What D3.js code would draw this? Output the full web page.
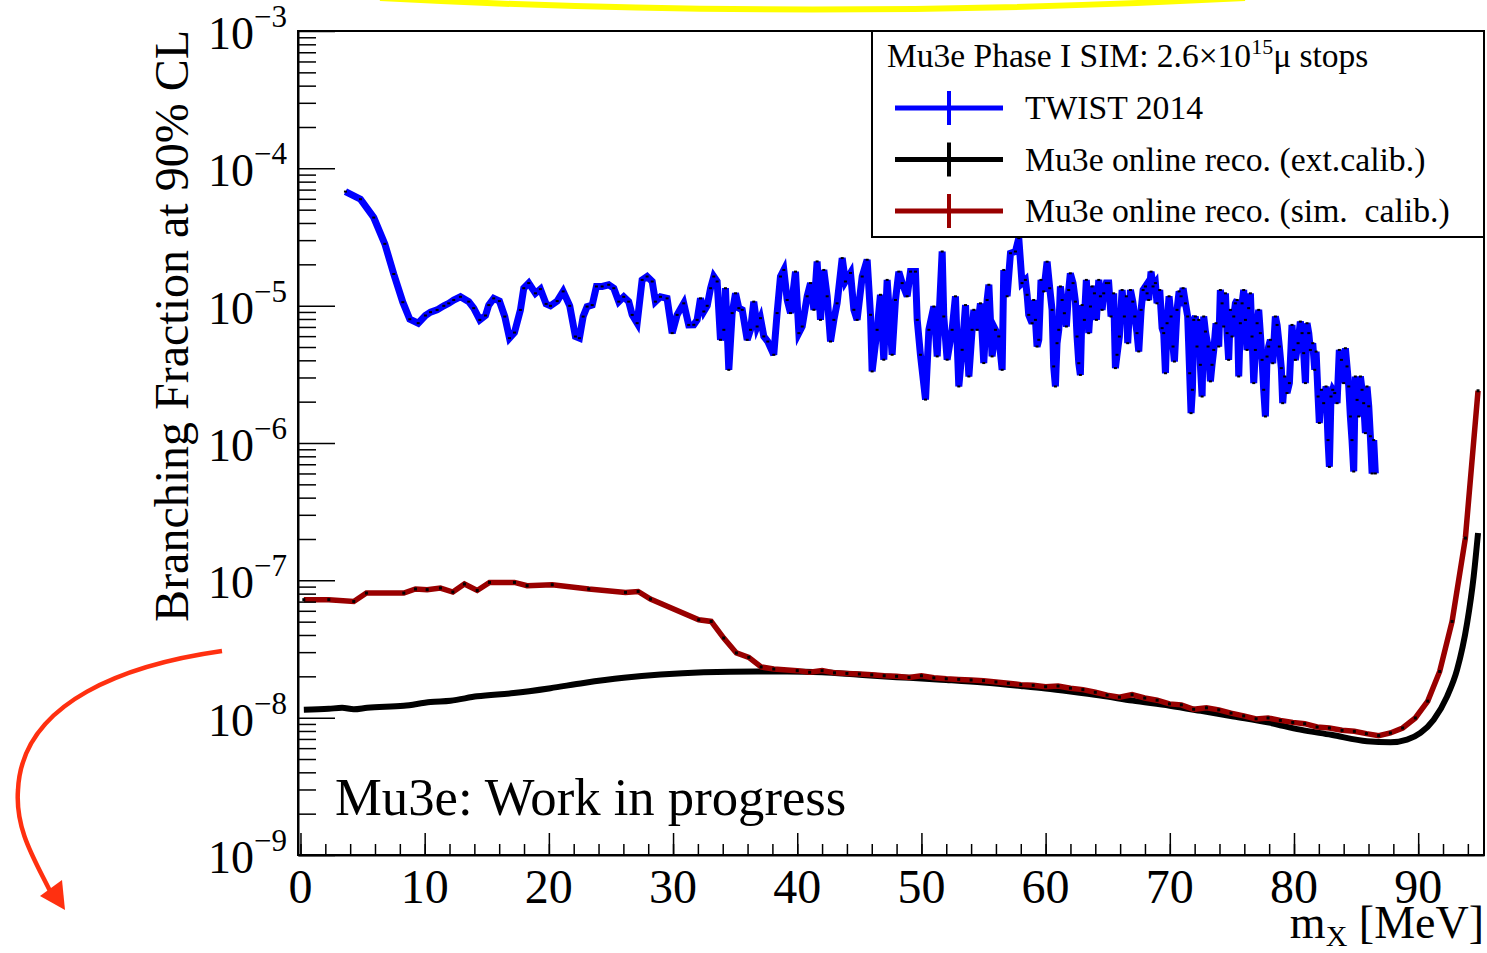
<!DOCTYPE html>
<html>
<head>
<meta charset="utf-8">
<script src="https://cdn.jsdelivr.net/npm/d3@7"></script>
<style>
  body { margin: 0; background: #fff; }
  text { font-family: "Liberation Serif", "Times New Roman", serif; fill: #000; }
</style>
</head>
<body>
<svg id="chart" width="1487" height="953"></svg>
<script>
// TWIST 2014 limit (units of 1e-6)
var twistMass = [3.62,4.83,5.90,6.79,7.51,8.24,8.80,9.48,10.06,10.47,11.00,11.54,11.94,12.34,12.88,13.55,13.95,14.44,14.90,15.16,
  15.56,16.02,16.45,16.83,17.23,17.71,17.98,18.38,18.92,19.32,19.78,20.13,20.67,21.15,21.68,22.14,22.46,22.76,23.08,23.49,
  23.83,24.29,24.82,25.23,25.63,26.03,26.43,26.71,27.11,27.51,27.91,28.32,28.58,28.99,29.52,29.93,30.33,30.86,31.26,
  31.67,31.94,32.21,32.48,32.75,33.02,33.28,33.55,33.82,34.09,34.22,34.49,34.76,35.03,35.30,35.57,35.97,36.24,36.50,36.77,
  37.04,37.31,37.63,38.11,38.38,38.65,38.92,39.19,39.46,39.86,40.13,40.40,40.80,41.07,41.34,41.60,41.87,42.14,42.41,42.68,
  42.95,43.21,43.62,43.88,44.29,44.56,44.82,45.23,45.63,45.90,46.03,46.43,46.70,46.97,47.24,47.64,47.91,48.18,48.45,48.85,
  49.12,49.52,49.66,49.92,50.33,50.60,51.00,51.27,51.67,51.80,52.07,52.47,52.74,53.01,53.28,53.55,53.82,54.08,54.22,54.49,
  54.75,55.02,55.29,55.43,55.69,55.96,56.23,56.50,
  56.63,56.90,57.17,57.57,57.84,
  58.10,58.37,58.51,58.64,58.91,59.04,59.18,59.31,59.45,59.63,59.85,60.12,60.33,60.52,60.65,60.79,60.92,61.06,61.19,61.33,
  61.51,61.67,61.86,61.99,62.21,62.40,62.53,62.67,62.80,62.94,63.12,63.28,63.47,63.61,63.74,63.93,64.09,64.28,64.41,64.55,
  64.68,64.89,65.08,65.27,65.48,65.62,65.75,65.94,66.16,66.34,66.50,66.61,66.83,67.02,67.18,67.36,67.50,67.69,67.85,68.04,
  68.17,68.30,68.49,68.65,68.84,68.97,69.19,69.38,69.51,69.65,69.78,69.94,70.10,70.26,70.37,70.58,70.75,70.91,71.07,71.26,
  71.44,71.60,71.71,71.82,71.93,
  72.06,72.19,72.33,72.46,72.60,72.73,72.87,73.08,73.27,73.40,73.54,73.72,73.94,74.07,74.21,74.34,74.48,74.61,74.74,74.88,
  75.01,75.15,75.28,75.42,75.55,75.68,75.82,75.95,76.09,76.22,76.35,76.49,76.62,76.76,76.89,77.03,77.16,77.29,77.43,77.56,
  77.70,77.83,77.96,78.10,78.29,78.50,78.64,78.82,78.98,79.09,79.25,79.44,79.63,79.84,79.98,80.11,80.33,80.51,80.65,80.78,
  80.92,81.05,81.19,81.32,81.51,81.67,81.78,81.94,82.04,82.21,82.39,82.58,82.74,82.85,82.98,83.12,83.28,83.47,83.65,83.82,
  84.00,84.14,84.27,84.41,84.54,84.67,84.81,84.94,85.08,85.21,85.35,85.48,85.61,85.75,85.88,86.02,86.15,86.29,86.42,86.55];
var twistLimit = [67.7,59.6,43.8,28.2,17.0,10.6,7.97,7.46,8.48,8.97,9.31,9.97,10.4,11.0,11.6,10.7,9.59,7.88,8.48,10.1,
  11.3,10.8,8.33,5.80,6.37,9.31,13.4,14.6,12.3,13.2,10.3,9.97,10.8,12.7,9.97,5.96,5.80,8.33,9.85,10.1,
  13.8,13.8,14.2,13.4,10.7,11.6,10.7,8.57,7.46,15.4,16.3,15.0,10.7,11.6,11.3,6.31,8.57,10.4,7.24,
  7.26,7.88,11.3,9.07,9.98,13.4,16.3,15.0,5.64,6.67,13.4,3.41,8.83,12.3,9.59,9.33,5.64,6.67,10.7,7.05,
  8.11,5.97,5.48,4.39,8.83,16.3,18.2,11.0,8.83,17.7,6.31,7.05,11.7,14.6,9.33,21.0,7.88,18.2,11.7,5.48,
  7.88,10.4,22.2,15.0,17.3,9.33,7.88,16.3,21.6,8.58,3.32,6.67,12.0,4.04,15.4,4.39,11.0,17.7,14.6,11.7,
  17.7,17.7,7.88,4.39,2.07,6.67,9.86,4.27,24.8,8.34,4.04,6.67,11.7,2.58,4.77,10.1,3.05,6.67,9.33,6.67,
  10.4,3.82,11.0,14.2,4.27,6.67,5.97,3.41,
  18.2,11.7,24.1,24.8,31.0,
  14.6,15.4,12.0,8.57,7.45,11.0,7.88,5.04,5.64,15.4,12.7,20.9,13.4,9.32,3.61,2.58,5.33,6.67,13.8,11.0,
  8.81,7.05,13.0,17.2,14.6,10.7,5.96,3.81,3.13,10.1,7.88,15.4,6.31,9.86,13.8,12.3,7.88,15.4,11.7,9.32,
  12.3,14.6,14.6,8.34,12.3,3.51,4.39,5.96,13.0,8.34,11.7,5.33,13.0,10.7,8.34,6.31,4.64,9.32,13.0,13.8,
  12.3,11.0,17.7,13.8,14.6,10.4,13.0,6.86,6.31,3.22,7.45,11.7,8.34,5.04,3.92,9.32,12.7,11.7,13.4,10.4,
  8.34,3.22,1.65,2.44,7.88,
  8.34,5.04,7.88,3.71,2.18,8.34,6.48,5.04,2.81,3.71,4.76,7.45,5.04,13.0,10.4,7.05,12.3,6.31,4.03,9.32,
  5.96,8.34,10.4,11.0,3.05,7.45,10.4,13.0,7.88,4.76,9.59,12.3,5.96,2.73,4.76,7.45,9.32,6.31,4.03,2.44,
  1.56,4.26,5.04,5.64,3.81,8.34,7.24,5.04,3.51,1.95,3.05,2.31,2.73,7.24,4.76,4.03,5.33,7.66,6.31,4.51,
  2.73,7.45,6.31,4.76,5.33,3.41,4.63,2.18,1.40,2.44,1.95,2.58,1.05,0.67,2.18,2.44,2.31,1.95,4.76,4.03,
  2.73,4.90,3.61,2.58,1.56,1.05,0.62,3.05,2.06,1.56,3.05,2.44,1.95,1.18,2.58,1.85,1.12,0.60,1.05,0.60];

// Mu3e online reco. (ext. calib.), units of 1e-8
var extMass = [0.27,2.28,3.35,4.29,5.37,8.32,10.47,12.08,14.22,17.17,20.13,22.81,26.03,28.99,32.47,36.77,39.19,42,45,48,
  50,52,55,58,60,62,64.41,67,70,72.5,75.14,78,80.51,83,85.88,87.76,89.10,90.18,91.25,92.33,93.13,93.94,94.47,94.82];
var extLimit = [1.14,1.16,1.18,1.15,1.18,1.22,1.30,1.33,1.43,1.51,1.64,1.79,1.95,2.06,2.14,2.17,2.17,2.14,2.05,1.97,
  1.93,1.88,1.80,1.70,1.63,1.55,1.45,1.33,1.22,1.12,1.02,0.92,0.818,0.75,0.673,0.661,0.691,0.774,0.967,1.43,2.23,4.89,10.7,22.1];

// Mu3e online reco. (sim. calib.), units of 1e-8
var simMass = [0.27,2.28,4.29,5.31,8.32,9.26,10.20,11.27,12.27,13.20,14.23,15.22,17.23,18.25,20.27,23.21,26.17,27.19,28.18,32.07,
  33.07,34.08,35.10,36.10,37.09,38.11,40,41,42,43,44,45,46,47,48,49,50,51,52,53,54,55,56,57,58,59,60,61,62,63,64,
  64.95,65.94,66.96,67.98,68.98,69.97,70.93,71.92,72.95,73.94,74.93,75.95,76.95,77.91,78.90,79.90,80.86,81.86,82.85,83.87,
  84.86,85.83,86.82,87.76,88.75,89.77,90.77,91.73,92.73,93.80,94.82];
var simLimit = [7.23,7.23,7.02,8.08,8.08,8.65,8.55,8.79,8.22,9.40,8.44,9.66,9.66,9.14,9.29,8.65,8.17,8.30,7.31,5.16,
  5.02,3.80,2.96,2.75,2.34,2.26,2.20,2.14,2.20,2.12,2.10,2.08,2.05,2.02,2.00,1.96,2.02,1.95,1.92,1.90,1.88,1.86,1.82,1.78,1.74,1.72,1.68,1.70,1.64,1.60,1.53,
  1.46,1.41,1.47,1.39,1.34,1.26,1.24,1.15,1.18,1.14,1.08,1.03,0.98,0.995,0.955,0.924,0.904,0.855,0.841,0.809,
  0.795,0.765,0.74,0.774,0.841,0.995,1.32,2.17,5.02,20.3,240];

var xTicks = [0,10,20,30,40,50,60,70,80,90];
var yExponents = [-9,-8,-7,-6,-5,-4,-3];

var legendEntries = [
  {label: "TWIST 2014", color: "#0000ff"},
  {label: "Mu3e online reco. (ext.calib.)", color: "#000000"},
  {label: "Mu3e online reco. (sim.\u00a0 calib.)", color: "#990000"}
];

var frame = {left: 298, right: 1484, top: 31, bottom: 855};

var svg = d3.select("#chart");

var x = d3.scaleLinear().domain([-0.2, 95.3]).range([frame.left, frame.right]);
var y = d3.scaleLog().domain([1e-9, 1e-3]).range([frame.bottom, frame.top]);

var twist = d3.zip(twistMass, twistLimit.map(v => v * 1e-6));
var ext = d3.zip(extMass, extLimit.map(v => v * 1e-8));
var sim = d3.zip(simMass, simLimit.map(v => v * 1e-8));

var line = d3.line().x(d => x(d[0])).y(d => y(d[1]));

// yellow highlight at the top edge
svg.append("path")
  .attr("d", "M380,-2 Q812,21 1245,-2")
  .attr("fill", "none")
  .attr("stroke", "#ffff00")
  .attr("stroke-width", 6);

// curves
svg.append("path")
  .datum(twist)
  .attr("d", line)
  .attr("fill", "none")
  .attr("stroke", "#0000ff")
  .attr("stroke-width", 7)
  .attr("stroke-linejoin", "miter")
  .attr("stroke-miterlimit", 4);

svg.append("g").selectAll("rect")
  .data(twist)
  .enter()
  .append("rect")
  .attr("x", d => x(d[0]) - 1.5)
  .attr("y", d => y(d[1]) - 1)
  .attr("width", 3)
  .attr("height", 2)
  .attr("fill", "#000");

svg.append("path")
  .datum(ext)
  .attr("d", line.curve(d3.curveMonotoneX))
  .attr("fill", "none")
  .attr("stroke", "#000")
  .attr("stroke-width", 6);

line.curve(d3.curveLinear);

svg.append("path")
  .datum(sim)
  .attr("d", line)
  .attr("fill", "none")
  .attr("stroke", "#990000")
  .attr("stroke-width", 5.5);

svg.append("g").selectAll("rect")
  .data(sim)
  .enter()
  .append("rect")
  .attr("x", d => x(d[0]) - 1.5)
  .attr("y", d => y(d[1]) - 1.5)
  .attr("width", 3)
  .attr("height", 3)
  .attr("fill", "#000");

// frame
svg.append("rect")
  .attr("x", frame.left)
  .attr("y", frame.top)
  .attr("width", frame.right - frame.left)
  .attr("height", frame.bottom - frame.top)
  .attr("fill", "none")
  .attr("stroke", "#000")
  .attr("stroke-width", 2);

// x axis ticks (pointing inwards)
var xMinor = d3.range(0, 96, 2);
svg.append("g")
  .attr("transform", `translate(0, ${frame.bottom})`)
  .call(d3.axisBottom(x).tickValues(xMinor).tickSize(-11).tickSizeOuter(0).tickFormat(""))
  .call(g => g.select(".domain").remove())
  .selectAll("line").attr("stroke-width", 1.5);

svg.append("g")
  .attr("transform", `translate(0, ${frame.bottom})`)
  .call(d3.axisBottom(x).tickValues(xTicks).tickSize(-22).tickSizeOuter(0).tickFormat(""))
  .call(g => g.select(".domain").attr("stroke-width", 2))
  .selectAll("line").attr("stroke-width", 1.5);

// y axis ticks
var yMinor = [];
yExponents.slice(0, -1).forEach(function(e) {
  for (var k = 2; k < 10; k++) yMinor.push(k * Math.pow(10, e));
});
var yMajor = yExponents.map(e => Math.pow(10, e));

svg.append("g")
  .attr("transform", `translate(${frame.left}, 0)`)
  .call(d3.axisLeft(y).tickValues(yMinor).tickSize(-18).tickSizeOuter(0).tickFormat(""))
  .call(g => g.select(".domain").remove())
  .selectAll("line").attr("stroke-width", 1.5);

svg.append("g")
  .attr("transform", `translate(${frame.left}, 0)`)
  .call(d3.axisLeft(y).tickValues(yMajor).tickSize(-37).tickSizeOuter(0).tickFormat(""))
  .call(g => g.select(".domain").attr("stroke-width", 2))
  .selectAll("line").attr("stroke-width", 1.5);

// tick labels
svg.append("g").selectAll("text")
  .data(xTicks)
  .enter()
  .append("text")
  .attr("x", d => x(d))
  .attr("y", 903)
  .attr("text-anchor", "middle")
  .style("font-size", "48px")
  .text(d => d);

var yLabels = svg.append("g").selectAll("text")
  .data(yExponents)
  .enter()
  .append("text")
  .attr("x", 287)
  .attr("y", d => y(Math.pow(10, d)) + 18)
  .attr("text-anchor", "end")
  .style("font-size", "46px");
yLabels.append("tspan").text("10");
yLabels.append("tspan")
  .attr("dy", -22)
  .style("font-size", "31px")
  .text(d => "\u2212" + (-d));

// axis titles
svg.append("text")
  .attr("transform", "translate(188, 30) rotate(-90)")
  .attr("text-anchor", "end")
  .style("font-size", "48px")
  .text("Branching Fraction at 90% CL");

var xTitle = svg.append("text")
  .attr("x", frame.right)
  .attr("y", 938)
  .attr("text-anchor", "end")
  .style("font-size", "46px");
xTitle.append("tspan").text("m");
xTitle.append("tspan").attr("dy", 8).style("font-size", "30px").text("X");
xTitle.append("tspan").attr("dy", -8).text(" [MeV]");

svg.append("text")
  .attr("x", 335)
  .attr("y", 815)
  .style("font-size", "52.7px")
  .text("Mu3e: Work in progress");

// legend
var legend = svg.append("g");
legend.append("rect")
  .attr("x", 872)
  .attr("y", frame.top)
  .attr("width", frame.right - 872)
  .attr("height", 206)
  .attr("fill", "#fff")
  .attr("stroke", "#000")
  .attr("stroke-width", 2);

var header = legend.append("text")
  .attr("x", 887)
  .attr("y", 67)
  .style("font-size", "33.5px");
header.append("tspan").text("Mu3e Phase I SIM: 2.6\u00d710");
header.append("tspan").attr("dy", -13).style("font-size", "22px").text("15");
header.append("tspan").attr("dy", 13).text("\u03bc stops");

var rows = legend.selectAll(".entry")
  .data(legendEntries)
  .enter()
  .append("g")
  .attr("class", "entry")
  .attr("transform", (d, i) => `translate(0, ${108 + i * 51.5})`);

rows.append("line")
  .attr("x1", 895).attr("x2", 1003)
  .attr("y1", 0).attr("y2", 0)
  .attr("stroke", d => d.color)
  .attr("stroke-width", 5);
rows.append("line")
  .attr("x1", 949).attr("x2", 949)
  .attr("y1", -17).attr("y2", 17)
  .attr("stroke", d => d.color)
  .attr("stroke-width", 4);
rows.append("text")
  .attr("x", 1025)
  .attr("y", 11)
  .style("font-size", "33.7px")
  .text(d => d.label);

// red arrow annotation
svg.append("path")
  .attr("d", "M222,651 C130,664 22,700 18,790 C15,830 35,860 52,895")
  .attr("fill", "none")
  .attr("stroke", "#ff3010")
  .attr("stroke-width", 4.5);
svg.append("polygon")
  .attr("points", "65,910 40,896 62,880")
  .attr("fill", "#ff3010");
</script>
</body>
</html>
